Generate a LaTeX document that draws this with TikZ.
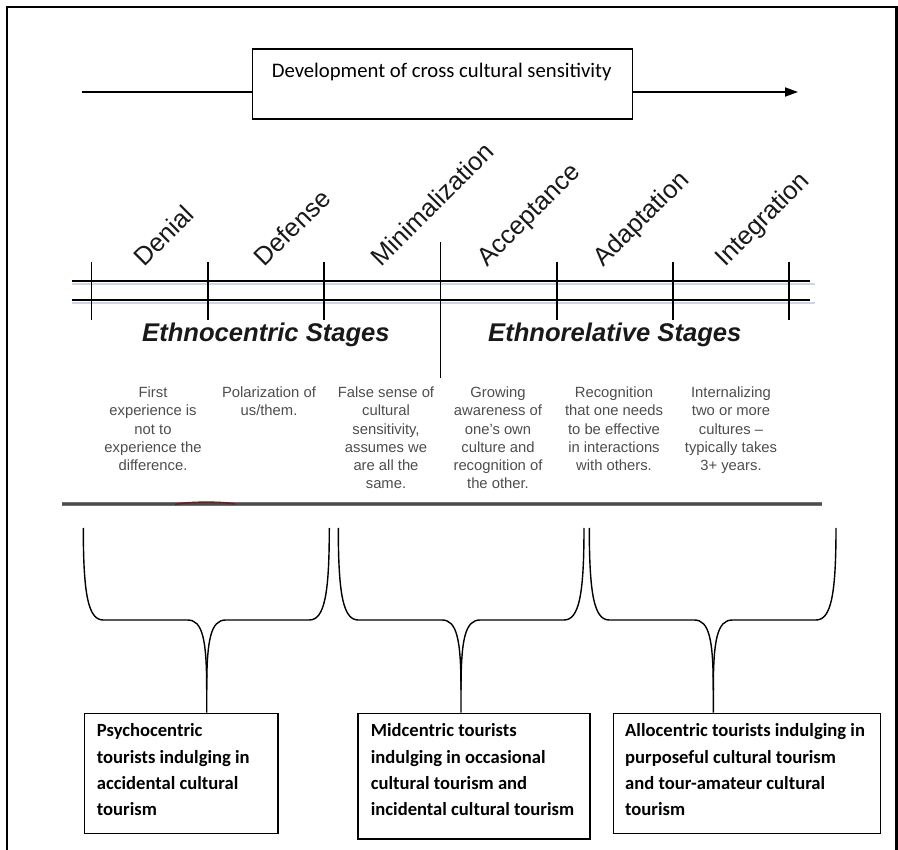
\documentclass[tikz,border=0pt]{standalone}
\usepackage{fontspec}
\setmainfont{Liberation Sans}
\newfontfamily\calibri{Carlito}
\usetikzlibrary{arrows.meta}
\definecolor{desc}{HTML}{4D4D4D}
\definecolor{shadowblue}{HTML}{CBD6E6}
\definecolor{stripgray}{HTML}{707070}
\definecolor{blobred}{HTML}{6B1E1E}
\begin{document}
\begin{tikzpicture}[x=1pt,y=-1pt,
  frame/.style={line width=2.5pt},
  axis/.style={line width=2pt},
  tickline/.style={line width=1.8pt},
  stagelab/.style={anchor=base west, inner sep=0pt, rotate=45, text=black!90, font=\fontsize{25.5}{30}\selectfont},
  groupname/.style={anchor=base west, inner sep=0pt, text=black!90, font=\fontsize{25.6}{30}\selectfont\bfseries\itshape},
  desctext/.style={anchor=base, inner sep=0pt, text=desc, font=\fontsize{14.8}{18.3}\selectfont},
  brace/.style={line width=1.4pt},
  tbox/.style={draw, line width=1.4pt, anchor=north west, inner sep=0pt},
  tboxtext/.style={anchor=base west, inner sep=0pt, font=\calibri\bfseries\fontsize{18.6}{26.3}\selectfont},
]
\useasboundingbox (0,0) rectangle (898,850);
% frame
\draw[frame] (7,850) -- (7,7) -- (896.5,7) -- (896.5,850);
% top box and arrow
\node[tbox, minimum width=380pt, minimum height=70pt] (devbox) at (251.7,48.3) {};
\node[anchor=base, inner sep=0pt, font=\calibri\fontsize{20.7}{24}\selectfont] (devtext) at (441.7,77.3) {Development of cross cultural sensitivity};
\coordinate (arrstart) at (81.7,92);
\coordinate (arrend) at (798,92);
\draw[line width=1.8pt] (arrstart) -- (arrstart -| devbox.west);
\draw[line width=1.8pt, -{Triangle[length=13pt,width=9pt]}] (devbox.east |- arrend) -- (arrend);
% axis
\draw[shadowblue, line width=2pt] (72,284) -- (815,284);
\draw[shadowblue, line width=2pt] (72,303) -- (815,303);
\draw[axis] (72,281) -- (810,281);
\draw[axis] (72,300) -- (810,300);
\foreach \x in {91.5,207.8,324.1,556.7,673,789.3}
  \draw[tickline] (\x,262) -- (\x,320);
\draw[tickline] (440.4,242) -- (440.4,378);
% stage labels
\foreach \x/\t/\n in {144.5/Denial/1,264.8/Defense/2,381.1/Minimalization/3,487.4/Acceptance/4,603.7/Adaptation/5,725/Integration/6}
  \node[stagelab] (stage\n) at (\x,268) {\t};
\node[groupname] (ethnocentric) at (142,341.7) {Ethnocentric Stages};
\node[groupname] (ethnorelative) at (488,341.7) {Ethnorelative Stages};
% descriptions
\node[desctext] (d1) at (153,397.5) {\parbox[t]{112pt}{\centering First\\experience is\\not to\\experience the\\difference.}};
\node[desctext] (d2) at (269,397.5) {\parbox[t]{112pt}{\centering Polarization of\\us/them.}};
\node[desctext] (d3) at (386,397.5) {\parbox[t]{112pt}{\centering False sense of\\cultural\\sensitivity,\\assumes we\\are all the\\same.}};
\node[desctext] (d4) at (498,397.5) {\parbox[t]{112pt}{\centering Growing\\awareness of\\one’s own\\culture and\\recognition of\\the other.}};
\node[desctext] (d5) at (614,397.5) {\parbox[t]{112pt}{\centering Recognition\\that one needs\\to be effective\\in interactions\\with others.}};
\node[desctext] (d6) at (731,397.5) {\parbox[t]{112pt}{\centering Internalizing\\two or more\\cultures –\\typically takes\\3+ years.}};
% strip
\draw[stripgray, line width=4pt] (62,504) -- (822,504);
\draw[black!70, line width=1.2pt] (62,504) -- (822,504);
\draw[blobred, line width=1.6pt] (175,504.5) .. controls (188,501.5) and (222,501.5) .. (235,504);
% bottom boxes
\node[tbox, minimum width=193.3pt, minimum height=120pt] (b1) at (84,712.7) {};
\node[tbox, minimum width=232pt, minimum height=125.6pt] (b2) at (357.3,712.7) {};
\node[tbox, minimum width=267.3pt, minimum height=120pt] (b3) at (612.7,712.7) {};
\node[tboxtext] (t1) at (96.7,736.7) {\parbox[t]{178pt}{\raggedright Psychocentric\\tourists indulging in\\accidental cultural\\tourism}};
\node[tboxtext] (t2) at (370.7,736.7) {\parbox[t]{215pt}{\raggedright Midcentric tourists\\indulging in occasional\\cultural tourism and\\incidental cultural tourism}};
\node[tboxtext] (t3) at (625,736.7) {\parbox[t]{250pt}{\raggedright Allocentric tourists indulging in\\purposeful cultural tourism\\and tour-amateur cultural\\tourism}};
% braces
\foreach \L/\C/\R/\n in {83.3/206.7/329.3/1, 338.3/461/584/2, 589.3/713.3/836/3}{
  \coordinate (tip\n) at (\C,690);
  \draw[brace] (\L,528) .. controls (\L,595) and ({\L+5},620) .. ({\L+20},620) -- ({\C-19},620) .. controls ({\C-4},620) and (\C,640) .. (tip\n) -- (tip\n |- b\n.north);
  \draw[brace] (\R,528) .. controls (\R,595) and ({\R-5},620) .. ({\R-20},620) -- ({\C+19},620) .. controls ({\C+4},620) and (\C,640) .. (tip\n);
}
\end{tikzpicture}
\end{document}
